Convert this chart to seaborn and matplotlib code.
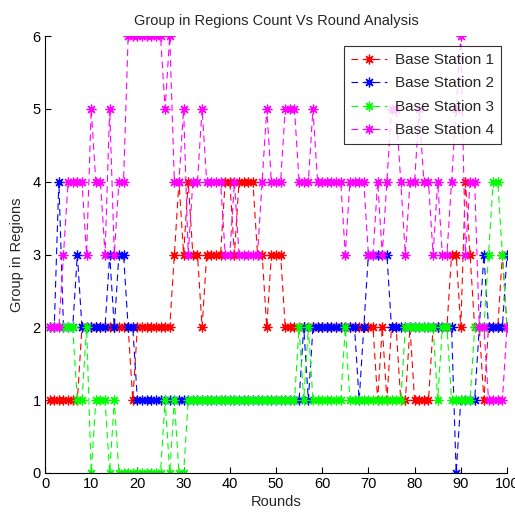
import matplotlib
matplotlib.use("Agg")
import matplotlib.pyplot as plt
import seaborn as sns
import pandas as pd

rounds = list(range(1, 101))

bs1 = [1, 1, 1, 1, 1, 1, 1,
       2, 2, 2, 2, 2, 2, 2, 2, 2, 2, 2,
       1,
       2, 2, 2, 2, 2, 2, 2, 2,
       3, 4, 3, 4, 3, 3, 2, 3, 3, 3, 3, 4, 4, 3, 4, 4, 4, 4, 3, 3, 2, 3, 3, 3,
       2, 2, 2,
       2, 2, 2, 2, 2, 2, 2, 2, 2, 2, 2, 2, 2, 2, 2,
       2, 2, 1, 2, 1, 2, 2, 1, 1, 2, 1, 1, 1, 1, 2, 2, 2, 2, 3, 3, 2, 4, 3, 2, 2, 1, 2, 2, 2, 3, 2]

bs2 = [2, 2, 4, 2, 2, 2, 3, 2, 2, 2, 2, 2, 2, 3, 2, 3, 3, 2, 2,
       1, 1, 1, 1, 1, 1, 1, 1, 1, 1,
       1, 1, 1, 1, 1, 1, 1, 1, 1, 1, 1, 1, 1, 1, 1, 1, 1, 1, 1, 1, 1, 1, 1, 1, 1,
       1, 2, 1, 2, 2, 2, 2, 2, 2, 2, 2, 2, 2, 1, 2,
       3, 3, 3, 3, 3,
       2, 2, 2, 2, 2, 2, 2, 2, 2, 2, 2, 2, 2, 2,
       0, 1, 1, 1, 1, 2, 3, 2, 2, 2, 2, 3]

bs3 = [2, 2, 2, 2, 2, 2, 1, 1, 2, 0, 1, 1, 1, 0, 1,
       0, 0, 0, 0, 0, 0, 0, 0, 0, 0,
       1, 0, 1, 0, 0,
       1, 1, 1, 1, 1, 1, 1, 1, 1, 1, 1, 1, 1, 1, 1, 1, 1, 1, 1, 1, 1, 1, 1, 1,
       2, 1, 2, 1, 1, 1, 1, 1, 1, 1, 2,
       1, 1, 1, 1, 1, 1, 1, 1, 1, 1, 1, 1,
       2, 2, 2, 2, 2, 2, 2, 1, 2, 2, 1, 1, 1, 1, 1, 2, 2, 2, 3, 4, 4, 3, 2]

bs4 = [2, 2, 2, 3, 4, 4, 4, 4, 3, 5, 4, 4, 3, 5, 3, 4, 4,
       6, 6, 6, 6, 6, 6, 6, 6, 5, 6,
       4, 4, 5, 3, 4, 4, 5, 4, 4, 4, 4, 3, 3, 4, 3, 3, 3, 3, 3, 4, 5, 4, 4, 4,
       5, 5, 5, 4, 4, 4, 5, 4, 4, 4, 4, 4, 4,
       3, 4, 4, 4, 4, 3, 3, 4, 3, 4, 5, 5, 4, 3, 4, 4, 5, 4, 4, 3, 4, 3, 3, 4, 5, 6,
       3, 4, 4, 2, 2, 1, 1, 1, 1, 2]

labels = ["Base Station 1", "Base Station 2", "Base Station 3", "Base Station 4"]
colors = ["#ff0000", "#0000ff", "#00ff00", "#ff00ff"]

sns.set_style("white")
plt.rcParams["font.family"] = ["Liberation Sans", "DejaVu Sans"]

fig = plt.figure(figsize=(5.15, 5.15), dpi=100)
ax = fig.add_axes([45 / 515, 1 - 473 / 515, 462 / 515, 437 / 515])

for vals, lab, col in zip([bs1, bs2, bs3, bs4], labels, colors):
    df = pd.DataFrame({"Rounds": rounds, "Group": vals})
    sns.lineplot(data=df, x="Rounds", y="Group", ax=ax, color=col, label=lab,
                 marker=(8, 2, 0), markersize=7, markeredgecolor=col, markerfacecolor=col,
                 markeredgewidth=0.9, linewidth=0.8, linestyle=(0, (6, 4)))

ax.set_xlim(0, 100)
ax.set_ylim(0, 6)
ax.set_xticks(range(0, 101, 10))
ax.set_yticks(range(0, 7))
ax.spines["top"].set_visible(False)
ax.spines["right"].set_visible(False)
for s in ["left", "bottom"]:
    ax.spines[s].set_color("black")
    ax.spines[s].set_linewidth(0.8)
ax.tick_params(direction="in", length=4, width=0.8, colors="black", labelsize=10.5,
               left=True, bottom=True, pad=3)
ax.set_xlabel("Rounds", fontsize=10.5, labelpad=3)
ax.set_ylabel("Group in Regions", fontsize=10.5, labelpad=6)
ax.set_title("Group in Regions Count Vs Round Analysis", fontsize=10.5, pad=8)
ax.grid(False)

leg = ax.legend(loc="upper right", bbox_to_anchor=(0.987, 0.977), fancybox=False,
                frameon=True, edgecolor="black", fontsize=11, handlelength=2.4,
                borderpad=0.45, labelspacing=0.62, handletextpad=0.5, borderaxespad=0)
leg.get_frame().set_linewidth(0.8)

fig.savefig("out.png", dpi=100)
